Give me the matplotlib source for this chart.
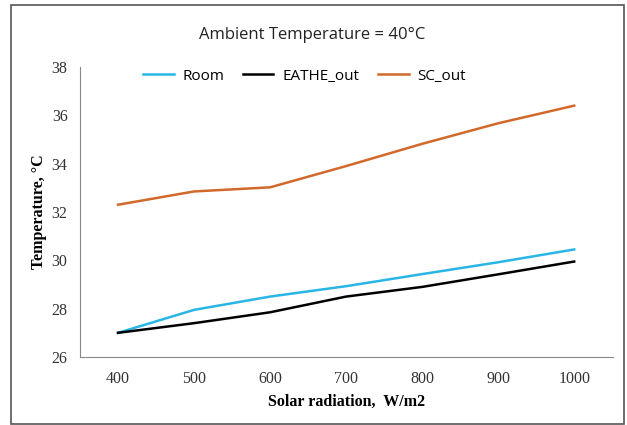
import matplotlib.pyplot as plt
from matplotlib.patches import Rectangle

radiacao = [400, 500, 600, 700, 800, 900, 1000]
room = [27.0, 27.95, 28.5, 28.93, 29.43, 29.92, 30.45]
eathe_out = [27.0, 27.4, 27.85, 28.5, 28.9, 29.42, 29.95]
sc_out = [32.3, 32.85, 33.02, 33.9, 34.82, 35.67, 36.4]

fig = plt.figure(figsize=(6.27, 4.25), dpi=100)
ax = fig.add_axes([0.1276, 0.16, 0.85, 0.6824])

ax.plot(radiacao, room, color='#29b6e6', lw=1.8, label='Room')
ax.plot(radiacao, eathe_out, color='black', lw=1.8, label='EATHE_out')
ax.plot(radiacao, sc_out, color='#d2692a', lw=1.8, label='SC_out')

ax.set_xlim(350, 1051)
ax.set_ylim(26, 38)
ax.set_xticks(radiacao)
ax.set_yticks([26, 28, 30, 32, 34, 36, 38])
ax.tick_params(length=0, labelsize=11.5, colors='#333333')
ax.tick_params(axis='y', pad=9)
ax.tick_params(axis='x', pad=10)
for lab in ax.get_xticklabels() + ax.get_yticklabels():
    lab.set_family('Liberation Serif')

for s in ['top', 'right']:
    ax.spines[s].set_visible(False)
ax.spines['left'].set_color('#888888')
ax.spines['bottom'].set_color('#888888')

ax.set_xlabel('Solar radiation,  W/m2', family='Liberation Serif',
              fontweight='bold', fontsize=11.5, labelpad=5)
ax.set_ylabel('Temperature, °C', family='Liberation Serif',
              fontweight='bold', fontsize=11.5, labelpad=3)

fig.text(0.498, 0.917, 'Ambient Temperature = 40°C', family='Open Sans',
         fontsize=12, ha='center', va='center', color='#222222')

leg = fig.legend(loc='center left', bbox_to_anchor=(143 / 627, 1 - 76 / 425),
                 bbox_transform=fig.transFigure, ncol=3, frameon=False,
                 prop={'family': 'Open Sans', 'size': 11}, borderpad=0,
                 borderaxespad=0, handlelength=2.0, columnspacing=1.2,
                 handletextpad=0.6)

# borda em volta da figura
fig.patches.append(Rectangle((0.0175, 0.002), 0.978, 0.986, transform=fig.transFigure,
                             fill=False, edgecolor='#555555', lw=1.2))

fig.savefig('out.png', dpi=100)
